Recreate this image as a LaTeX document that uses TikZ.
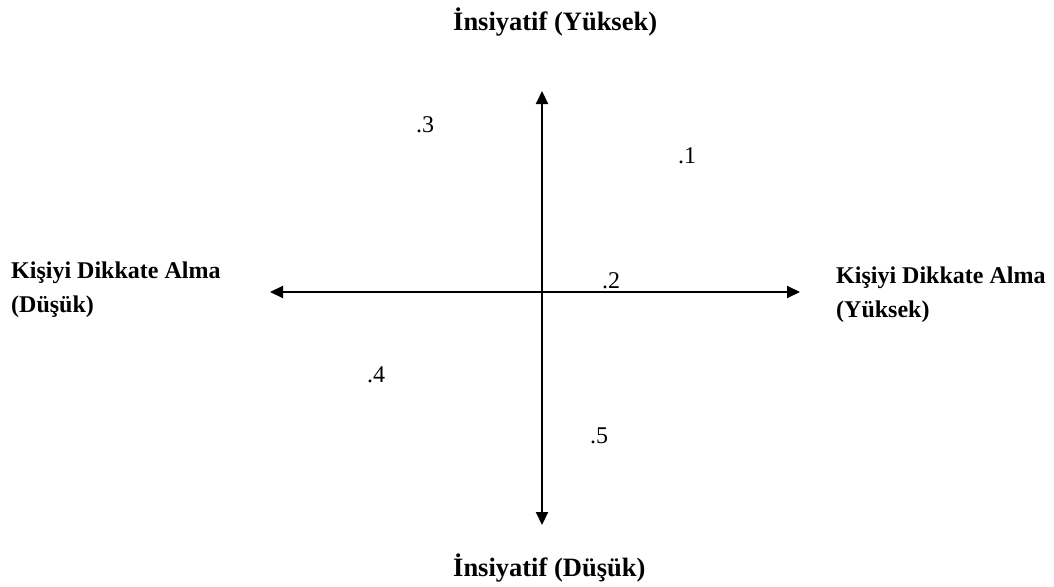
\documentclass[tikz,border=0pt]{standalone}
\usepackage{fontspec}
\setmainfont{Liberation Serif}
\usetikzlibrary{arrows.meta}
\begin{document}
\begin{tikzpicture}[x=1pt,y=-1pt,
  axis/.style={line width=2pt,{Triangle[width=12pt,length=13pt]}-{Triangle[width=12pt,length=13pt]}},
  lbl/.style={font=\bfseries\fontsize{24}{34}\selectfont,inner sep=0pt,align=left,anchor=base west},
  vlbl/.style={font=\bfseries\fontsize{26.5}{30}\selectfont,inner sep=0pt,anchor=base west},
  num/.style={font=\fontsize{24}{28}\selectfont,inner sep=0pt,anchor=base west}]
\useasboundingbox (0,0) rectangle (1054,586);
\coordinate (L) at (270,292);
\coordinate (R) at (800,292);
\coordinate (T) at (542,91);
\coordinate (B) at (542,525);
\draw[axis] (L) -- (R);
\draw[axis] (T) -- (B);
\node[vlbl] (top) at (453,31) {İnsiyatif (Yüksek)};
\node[vlbl] (bot) at (453,576) {İnsiyatif (Düşük)};
\node[lbl] (left) at (11,312) {Kişiyi Dikkate Alma\\(Düşük)};
\node[lbl] (right) at (836,317) {Kişiyi Dikkate Alma\\(Yüksek)};
\node[num] (n3) at (416,132) {.3};
\node[num] (n1) at (678,163) {.1};
\node[num] (n2) at (602,288) {.2};
\node[num] (n4) at (367,382) {.4};
\node[num] (n5) at (590,443) {.5};
\end{tikzpicture}
\end{document}
